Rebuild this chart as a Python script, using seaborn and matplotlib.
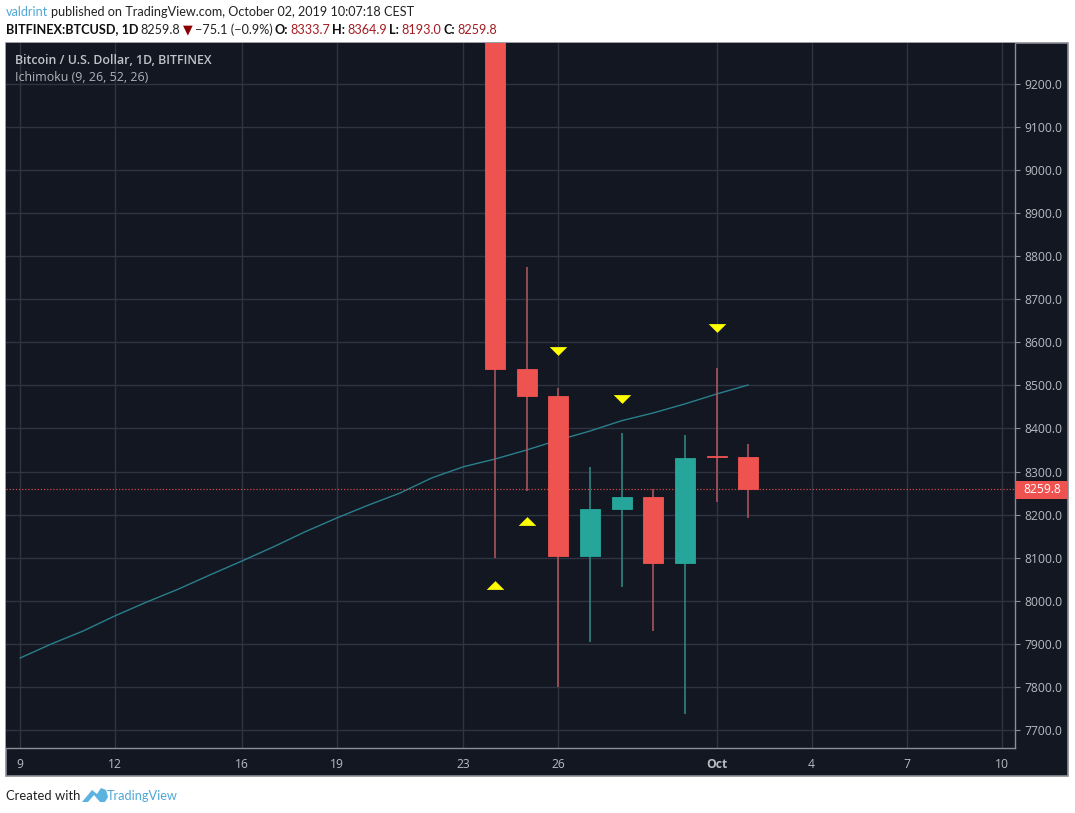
"""
BTC/USD daily candles with Ichimoku line, TradingView dark look.
"""

import matplotlib
matplotlib.use("Agg")
import matplotlib.pyplot as plt
from matplotlib.patches import Rectangle, Polygon
import pandas as pd
import seaborn as sns

# Days are counted from Sep 9 (0) onwards
candle_days = [15, 16, 17, 18, 19, 20, 21, 22, 23]
opens = [9700.0, 8538.0, 8475.0, 8105.0, 8212.0, 8240.0, 8088.0, 8337.0, 8333.7]
closes = [8538.0, 8475.0, 8105.0, 8212.0, 8240.0, 8088.0, 8332.0, 8333.7, 8259.8]
highs = [9800.0, 8775.0, 8495.0, 8310.0, 8390.0, 8260.0, 8385.0, 8540.0, 8364.9]
lows = [8100.0, 8255.0, 7800.0, 7905.0, 8032.0, 7930.0, 7738.0, 8230.0, 8193.0]

ichimoku_days = list(range(24))
ichimoku = [7867, 7900, 7930, 7965, 7997, 8027, 8060, 8092, 8125, 8160, 8192, 8222,
            8250, 8285, 8311, 8329, 8350, 8373, 8394, 8418, 8436, 8457, 8480, 8501]

up_days = [15, 16]
up_values = [8037, 8186]
down_days = [17, 19, 22]
down_values = [8580, 8468, 8633]

x_ticks = [0, 3, 7, 10, 14, 17, 22, 25, 28, 31]
x_labels = ["9", "12", "16", "19", "23", "26", "Oct", "4", "7", "10"]
y_ticks = [7700, 7800, 7900, 8000, 8100, 8200, 8300, 8400, 8500, 8600, 8700, 8800, 8900, 9000, 9100, 9200]
last_price = 8259.8

BG = "#131722"
GRID = "#2f3441"
FRAME = "#8b8e95"
TICK_TEXT = "#b8bbc3"
RED = "#ef5350"
TEAL = "#26a69a"
RED_WICK = "#a9545a"
TEAL_WICK = "#2f8480"
W, H = 1075, 813

sns.set_theme(style="dark")
plt.rcParams["font.family"] = ["Open Sans", "DejaVu Sans"]

fig = plt.figure(figsize=(W / 100, H / 100), dpi=100, facecolor="white")


def fx(px):
    return px / W


def fy(py):
    return 1 - py / H


def text_runs(x, y, runs, fontsize=9.05, gap=3.2):
    """Write coloured pieces of text one after the other on a line."""
    renderer = fig.canvas.get_renderer()
    for txt, color, weight in runs:
        t = fig.text(fx(x), fy(y), txt, color=color, fontsize=fontsize, fontweight=weight,
                     family=["Lato", "DejaVu Sans"], va="center", ha="left")
        x += t.get_window_extent(renderer).width + gap


# Dark panel behind plot and axis strips
fig.add_artist(Rectangle((fx(6), fy(776)), fx(1062), 733 / H, transform=fig.transFigure,
                         facecolor=BG, edgecolor=FRAME, linewidth=1.2, zorder=-1))

ax = fig.add_axes([fx(6), fy(748), fx(1009), 704.5 / H])
ax.set_facecolor(BG)
ax.set_xlim(-0.442, 31.426)
ax.set_ylim(7658.2, 9293.7)

# Grid
ax.set_xticks(x_ticks)
ax.set_xticklabels(x_labels)
ax.set_yticks(y_ticks)
ax.set_yticklabels([f"{v:.1f}" for v in y_ticks])
ax.yaxis.tick_right()
ax.grid(True, color=GRID, linewidth=1.0)
ax.set_axisbelow(True)
ax.tick_params(axis="both", length=3.5, width=0.8, color=FRAME, labelcolor=TICK_TEXT, labelsize=8.7, pad=3)
ax.tick_params(axis="x", pad=4)
ax.tick_params(axis="y", left=False, right=True)
for name, spine in ax.spines.items():
    spine.set_visible(name in ("right", "bottom"))
    spine.set_color(FRAME)
    spine.set_linewidth(1.0)
for lab in ax.get_xticklabels():
    if lab.get_text() == "Oct":
        lab.set_fontweight("bold")

# Ichimoku line
line_df = pd.DataFrame({"day": ichimoku_days, "value": ichimoku})
sns.lineplot(data=line_df, x="day", y="value", color="#2a7f8c", linewidth=1.0, ax=ax, zorder=2)
ax.set_xlabel("")
ax.set_ylabel("")
ax.yaxis.tick_right()

# Last price line
ax.axhline(last_price, color=RED, linestyle=(0, (1, 1.5)), linewidth=0.9, zorder=2.5, alpha=0.85)

# Candles
candles = pd.DataFrame({"day": candle_days, "open": opens, "close": closes, "high": highs, "low": lows})
for _, c in candles.iterrows():
    rising = c["close"] > c["open"]
    ax.vlines(c["day"], c["low"], c["high"], color=TEAL_WICK if rising else RED_WICK, linewidth=1.2, zorder=3)
    ax.bar(c["day"], abs(c["close"] - c["open"]), bottom=min(c["open"], c["close"]), width=0.63,
           color=TEAL if rising else RED, edgecolor=TEAL if rising else RED, linewidth=0.6, zorder=4)

# Yellow triangles
flat_up = [(-1, -0.5), (1, -0.5), (0, 0.5)]
flat_down = [(-1, 0.5), (1, 0.5), (0, -0.5)]
sns.scatterplot(x=up_days, y=up_values, marker=flat_up, s=160, color="#ffff00", linewidth=0, ax=ax, zorder=5)
sns.scatterplot(x=down_days, y=down_values, marker=flat_down, s=160, color="#ffff00", linewidth=0, ax=ax, zorder=5)

# Legend text inside the chart
ax.text(9 / 1009, 1 - 17 / 704.5, "Bitcoin / U.S. Dollar, 1D, BITFINEX", transform=ax.transAxes,
        color="#c0c3ca", fontsize=8.95, fontweight="semibold", va="center", ha="left")
ax.text(9 / 1009, 1 - 34 / 704.5, "Ichimoku (9, 26, 52, 26)", transform=ax.transAxes,
        color="#b0b3ba", fontsize=8.95, va="center", ha="left")

# Last price tag on the axis strip
fig.add_artist(Rectangle((fx(1015), fy(498.5)), fx(53), 18 / H, transform=fig.transFigure,
                         facecolor=RED, edgecolor="none", zorder=6))
fig.text(fx(1042), fy(489.5), f"{last_price:.1f}", color="white", fontsize=8.7, ha="center", va="center", zorder=7)

# Header lines
text_runs(6, 12.5, [("valdrint", "#4fa8d5", "normal"),
                    ("published on TradingView.com, October 02, 2019 10:07:18 CEST", "#222222", "normal")])
dark_red = "#a31c22"
text_runs(6, 29.5, [("BITFINEX:BTCUSD, 1D", "#111111", "bold"),
                    ("8259.8", "#222222", "normal"),
                    ("▼", "#8b0000", "normal"),
                    ("\u221275.1 (\u22120.9%)", "#222222", "normal"),
                    ("O:", "#111111", "bold"), ("8333.7", dark_red, "normal"),
                    ("H:", "#111111", "bold"), ("8364.9", dark_red, "normal"),
                    ("L:", "#111111", "bold"), ("8193.0", dark_red, "normal"),
                    ("C:", "#111111", "bold"), ("8259.8", dark_red, "normal")], gap=2.2)

# Footer with small cloud logo
fig.text(fx(6), fy(796), "Created with", color="#222222", fontsize=9.4, family=["Lato", "DejaVu Sans"],
         va="center", ha="left")
logo = [(82, 802), (92, 790), (97, 794), (101, 788), (106, 790), (108, 797), (105, 802), (100, 802),
        (94, 795), (88, 802)]
fig.add_artist(Polygon([(fx(a), fy(b)) for a, b in logo], closed=True, transform=fig.transFigure,
                       facecolor="#5cb3e0", edgecolor="none"))
fig.text(fx(107), fy(796), "TradingView", color="#4fa8d5", fontsize=9.2, family=["Lato", "DejaVu Sans"],
         va="center", ha="left")

fig.savefig("out.png", dpi=100)
plt.close(fig)
